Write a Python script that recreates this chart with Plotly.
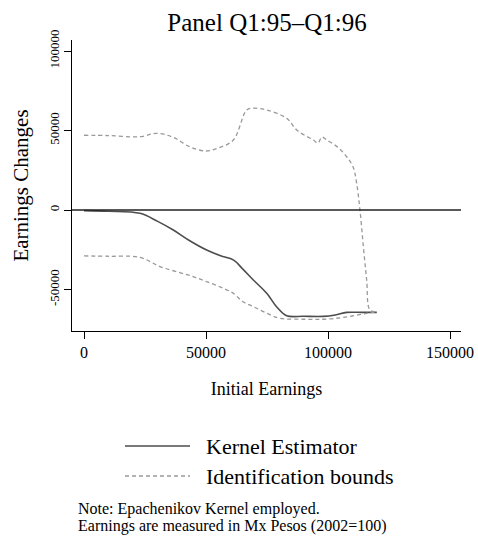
import plotly.graph_objects as go

# Kernel estimate of earnings changes by initial earnings
kernel_x = [0, 10000, 22950, 30000, 36600, 43000, 50270, 56000, 61200, 65000, 69400,
            74900, 79000, 83060, 90000, 98100, 103000, 107650, 114000, 120000]
kernel_y = [-400, -800, -2100, -7000, -12600, -19000, -25160, -28800, -31400, -37000, -44000,
            -52400, -61000, -66500, -66800, -66900, -66000, -64400, -64400, -64400]

# Upper identification bound
upper_x = [0, 10000, 22950, 29800, 36600, 43000, 49870, 55000, 61200, 66700, 69400,
           74900, 83060, 87200, 94000, 95900, 97500, 99500, 104000, 107650, 110300,
           111750, 113100, 114500, 115850, 117200, 120000]
upper_y = [47000, 46800, 46100, 48200, 45700, 40000, 37100, 39000, 44000, 62900, 64000,
           62900, 57700, 50300, 44000, 42100, 45900, 44000, 39500, 33500, 27000,
           16800, 0, -23100, -44000, -62900, -64000]

# Lower identification bound
lower_x = [0, 10000, 22950, 31150, 39300, 45000, 50270, 56000, 61200, 65000, 69400,
           75000, 80300, 90000, 98100, 105000, 110400, 115850, 120000]
lower_y = [-28900, -29100, -29800, -35600, -39400, -42000, -45100, -48500, -52400, -57500, -60800,
           -65000, -68100, -68700, -68700, -67800, -66500, -65000, -64000]

x_ticks = [0, 50000, 100000, 150000]
y_ticks = [-50000, 0, 50000, 100000]

legend_labels = ["Kernel Estimator", "Identification bounds"]
note_lines = ["Note: Epachenikov Kernel employed.",
              "Earnings are measured in Mx Pesos (2002=100)"]

SERIF = "Liberation Serif, Times New Roman, serif"
SOLID = "#4d4d4d"
DASHED = "#999999"

fig = go.Figure()
fig.add_trace(go.Scatter(x=kernel_x, y=kernel_y, mode="lines",
                         line=dict(color=SOLID, width=1.6), line_shape="spline",
                         showlegend=False))
fig.add_trace(go.Scatter(x=upper_x, y=upper_y, mode="lines",
                         line=dict(color=DASHED, width=1.3, dash="4px,3px"),
                         line_shape="spline", showlegend=False))
fig.add_trace(go.Scatter(x=lower_x, y=lower_y, mode="lines",
                         line=dict(color=DASHED, width=1.3, dash="4px,3px"),
                         line_shape="spline", showlegend=False))

# Horizontal reference line at zero
fig.add_shape(type="line", xref="paper", yref="y", x0=0, x1=1, y0=0, y1=0,
              line=dict(color="#222222", width=1.5))

# Plot area spans x 72..461 px and y 40..331 px
L, R, T, B = 72, 461, 40, 331
W, H = R - L, B - T

def px(xp):
    return (xp - L) / W

def py(yp):
    return (B - yp) / H

# Legend drawn below the axes
for i, (lab, col, dash) in enumerate(zip(legend_labels, [SOLID, DASHED], ["solid", "4px,3px"])):
    yy = 446 + 30 * i
    fig.add_shape(type="line", xref="paper", yref="paper",
                  x0=px(125), x1=px(190), y0=py(yy), y1=py(yy),
                  line=dict(color=col, width=1.3, dash=dash))
    fig.add_annotation(xref="paper", yref="paper", x=px(204), y=py(yy), text=lab,
                       showarrow=False, xanchor="left", yanchor="middle",
                       font=dict(family=SERIF, size=22, color="black"))

for i, line in enumerate(note_lines):
    fig.add_annotation(xref="paper", yref="paper", x=px(77), y=py(509 + 17 * i), text=line,
                       showarrow=False, xanchor="left", yanchor="middle", borderpad=0,
                       font=dict(family=SERIF, size=16, color="black"))

fig.update_layout(
    width=478, height=541,
    margin=dict(l=L, r=478 - R, t=T, b=541 - B),
    paper_bgcolor="white", plot_bgcolor="white",
    font=dict(family=SERIF, color="black"),
    title=dict(text="Panel Q1:95\u2013Q1:96", x=(267 / 478), xanchor="center",
               y=1 - 22 / 541, yanchor="middle",
               font=dict(family=SERIF, size=25, color="black")),
    xaxis=dict(range=[-4918, 154508], autorange=False, tickvals=x_ticks,
               ticktext=[str(v) for v in x_ticks], automargin=False,
               showgrid=False, zeroline=False, showline=True, linecolor="black", linewidth=1,
               ticks="outside", ticklen=7, tickcolor="black", tickwidth=1,
               tickfont=dict(family=SERIF, size=16),
               title=dict(text="Initial Earnings", font=dict(family=SERIF, size=18), standoff=22)),
    yaxis=dict(range=[-76100, 106918], autorange=False, tickvals=y_ticks,
               ticktext=[str(v) for v in y_ticks], tickangle=-90, automargin=False,
               showgrid=False, zeroline=False, showline=True, linecolor="black", linewidth=1,
               ticks="outside", ticklen=7, tickcolor="black", tickwidth=1,
               tickfont=dict(family=SERIF, size=13),
               title=dict(text="Earnings Changes", font=dict(family=SERIF, size=21), standoff=12)),
)

fig.write_html("out.html")
